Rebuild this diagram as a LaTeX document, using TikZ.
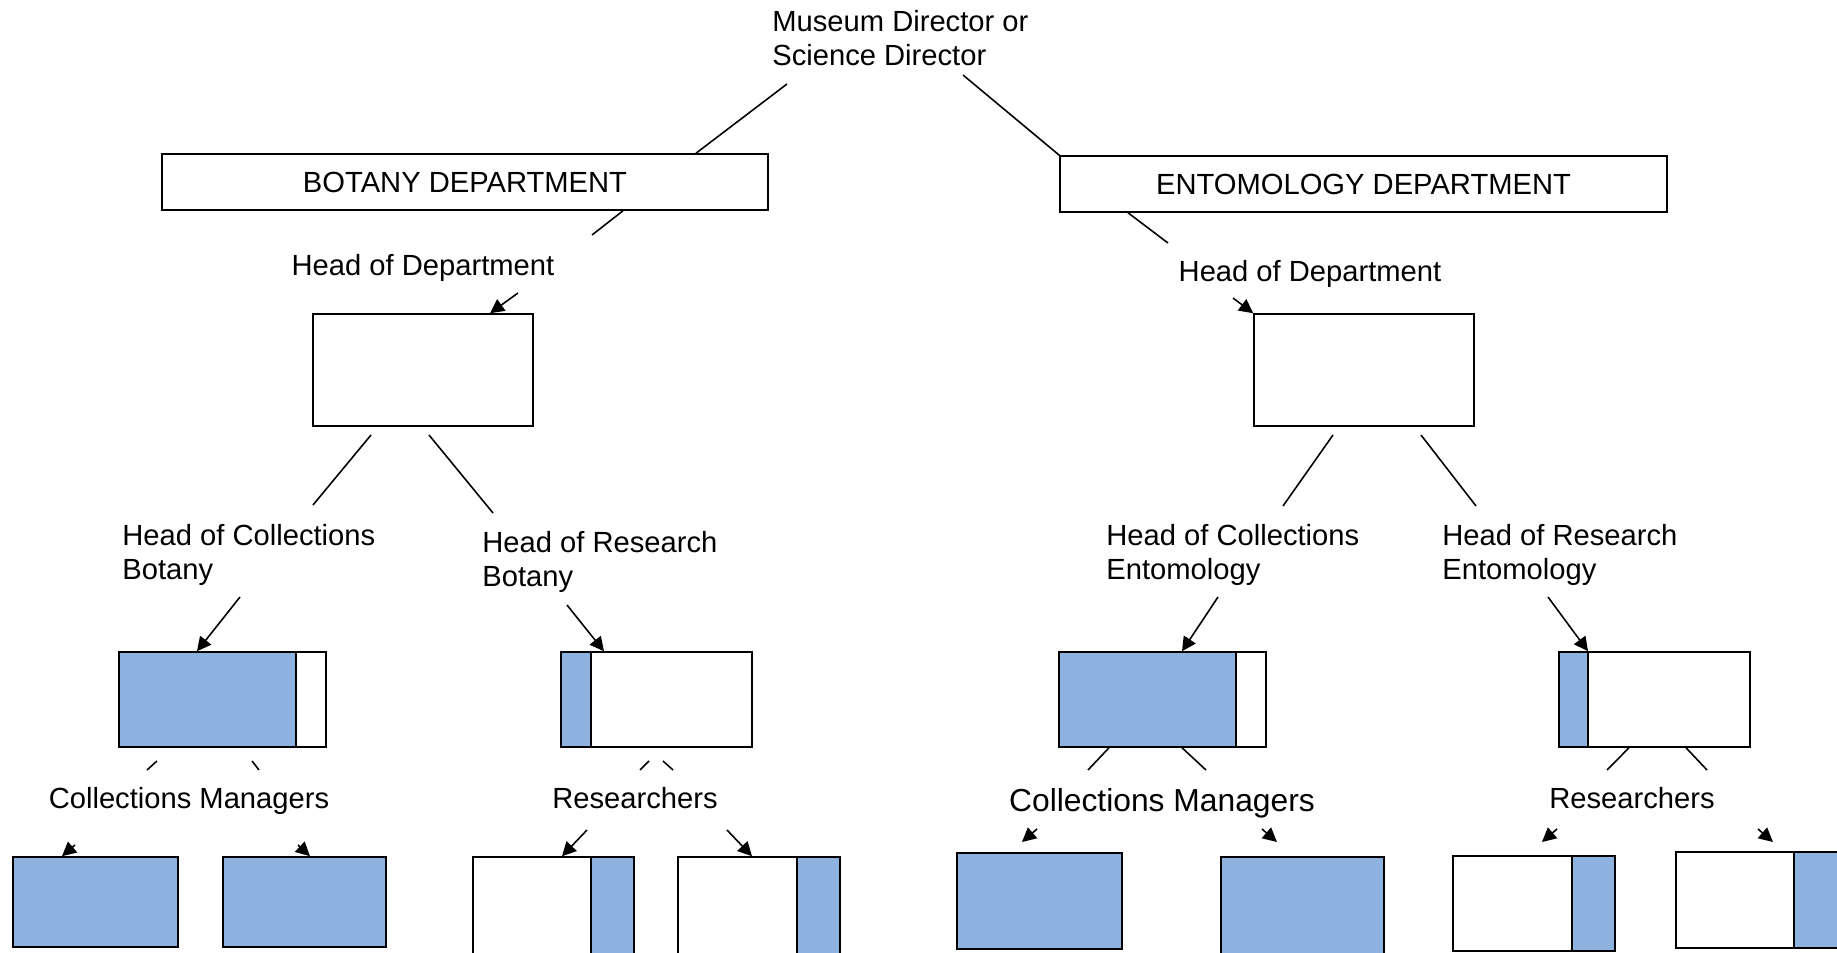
\documentclass[tikz,border=0pt]{standalone}
\usepackage{fontspec}
\setmainfont{Liberation Sans}
\usetikzlibrary{arrows.meta,positioning,calc}
\definecolor{staffblue}{RGB}{142,178,224}

\tikzset{
	orgline/.style={line width=0.9pt},
	orgarrow/.style={line width=0.9pt,-{Triangle[length=8pt,width=8pt]}},
	orgtext/.style={inner sep=0,align=left,font=\fontsize{16.6}{19.4}\selectfont},
	deptbox/.style={draw,line width=0.9pt,inner sep=0,minimum height=1.12cm,font=\fontsize{16.6}{19.4}\selectfont},
	headbox/.style={draw,line width=0.9pt,minimum width=4.4cm,minimum height=2.24cm},
	unitbox/.style={draw,line width=0.9pt,minimum height=1.9cm},
	staffbox/.style={draw,line width=0.9pt}
}

\begin{document}
\begin{tikzpicture}[x=0.02cm,y=-0.02cm]
	\useasboundingbox (0,0) rectangle (1837,953);
	
	% director and departments
	\node[orgtext,anchor=west] (dir) at (772,38) {Museum Director or\\Science Director};
	\node[deptbox,minimum width=12.12cm] (botdept) at (465,182) {BOTANY DEPARTMENT};
	\node[deptbox,minimum width=12.14cm] (entdept) at (1363.5,184) {ENTOMOLOGY DEPARTMENT};
	\coordinate (dirL) at (787,84);
	\coordinate (dirR) at (963,75);
	\draw[orgline] (dirL) -- (696,0 |- botdept.north);
	\draw[orgline] (dirR) -- (entdept.north west);
	
	% botany
	\node[orgtext] (bhdtxt) at (423,268) {Head of Department};
	\node[headbox] (bhead) at (423,370) {};
	\node[orgtext,anchor=west] (bhctxt) at (122,555) {Head of Collections\\Botany};
	\node[orgtext,anchor=west] (bhrtxt) at (482,562) {Head of Research\\Botany};
	\fill[staffblue] (119,652) rectangle (296,747);
	\node[unitbox,minimum width=4.14cm] (bcol) at (222.5,699.5) {};
	\draw[orgline] (296,0 |- bcol.north) -- (296,0 |- bcol.south);
	\fill[staffblue] (561,652) rectangle (591,747);
	\node[unitbox,minimum width=3.82cm] (bres) at (656.5,699.5) {};
	\draw[orgline] (591,0 |- bres.north) -- (591,0 |- bres.south);
	\node[orgtext] (bcmtxt) at (189,801) {Collections Managers};
	\node[orgtext] (brtxt) at (635,798) {Researchers};
	\node[staffbox,fill=staffblue,minimum width=3.3cm,minimum height=1.8cm] (bcm1) at (95.5,902) {};
	\node[staffbox,fill=staffblue,minimum width=3.26cm,minimum height=1.8cm] (bcm2) at (304.5,902) {};
	\fill[staffblue] (591,857) rectangle (634,962);
	\node[staffbox,minimum width=3.22cm,minimum height=2.1cm] (br1) at (553.5,909.5) {};
	\draw[orgline] (591,0 |- br1.north) -- (591,0 |- br1.south);
	\fill[staffblue] (797,857) rectangle (840,962);
	\node[staffbox,minimum width=3.24cm,minimum height=2.1cm] (br2) at (759,909.5) {};
	\draw[orgline] (797,0 |- br2.north) -- (797,0 |- br2.south);
	
	\coordinate (b0) at (592,235);
	\coordinate (b1) at (518,293);
	\coordinate (b2) at (371,435);
	\coordinate (b3) at (313,505);
	\coordinate (b4) at (429,435);
	\coordinate (b5) at (493,513);
	\coordinate (b6) at (240,597);
	\coordinate (b7) at (567,605);
	\draw[orgline] (623,0 |- botdept.south) -- (b0);
	\draw[orgarrow] (b1) -- (490,0 |- bhead.north);
	\draw[orgline] (b2) -- (b3);
	\draw[orgline] (b4) -- (b5);
	\draw[orgarrow] (b6) -- (197,0 |- bcol.north);
	\draw[orgarrow] (b7) -- (604,0 |- bres.north);
	\draw[orgline] (157,761) -- (147,770);
	\draw[orgline] (252,761) -- (259,770);
	\draw[orgline] (649,761) -- (640,770);
	\draw[orgline] (663,761) -- (673,770);
	\draw[orgarrow] (75,845) -- (62,0 |- bcm1.north);
	\draw[orgarrow] (298,845) -- (310,0 |- bcm2.north);
	\draw[orgarrow] (587,830) -- (562,0 |- br1.north);
	\draw[orgarrow] (727,830) -- (752,0 |- br2.north);
	
	% entomology
	\node[orgtext] (ehdtxt) at (1310,274) {Head of Department};
	\node[headbox] (ehead) at (1364,370) {};
	\node[orgtext,anchor=west] (ehctxt) at (1106,555) {Head of Collections\\Entomology};
	\node[orgtext,anchor=west] (ehrtxt) at (1442,555) {Head of Research\\Entomology};
	\fill[staffblue] (1059,652) rectangle (1236,747);
	\node[unitbox,minimum width=4.14cm] (ecol) at (1162.5,699.5) {};
	\draw[orgline] (1236,0 |- ecol.north) -- (1236,0 |- ecol.south);
	\fill[staffblue] (1559,652) rectangle (1588,747);
	\node[unitbox,minimum width=3.82cm] (eres) at (1654.5,699.5) {};
	\draw[orgline] (1588,0 |- eres.north) -- (1588,0 |- eres.south);
	\node[orgtext,font=\fontsize{18.1}{21}\selectfont] (ecmtxt) at (1162,803) {Collections Managers};
	\node[orgtext] (ertxt) at (1632,798) {Researchers};
	\node[staffbox,fill=staffblue,minimum width=3.3cm,minimum height=1.92cm] (ecm1) at (1039.5,901) {};
	\node[staffbox,fill=staffblue,minimum width=3.26cm,minimum height=2.04cm] (ecm2) at (1302.5,908) {};
	\fill[staffblue] (1572,856) rectangle (1615,951);
	\node[staffbox,minimum width=3.24cm,minimum height=1.9cm] (er1) at (1534,903.5) {};
	\draw[orgline] (1572,0 |- er1.north) -- (1572,0 |- er1.south);
	\fill[staffblue] (1794,852) rectangle (1846,948);
	\node[staffbox,minimum width=3.4cm,minimum height=1.92cm] (er2) at (1761,900) {};
	\draw[orgline] (1794,0 |- er2.north) -- (1794,0 |- er2.south);
	
	\coordinate (e0) at (1168,243);
	\coordinate (e1) at (1233,298);
	\coordinate (e2) at (1333,435);
	\coordinate (e3) at (1283,506);
	\coordinate (e4) at (1421,435);
	\coordinate (e5) at (1476,506);
	\coordinate (e6) at (1218,597);
	\coordinate (e7) at (1548,597);
	\draw[orgline] (1128,0 |- entdept.south) -- (e0);
	\draw[orgarrow] (e1) -- (ehead.north west);
	\draw[orgline] (e2) -- (e3);
	\draw[orgline] (e4) -- (e5);
	\draw[orgarrow] (e6) -- (1182,0 |- ecol.north);
	\draw[orgarrow] (e7) -- (1588,0 |- eres.north);
	\draw[orgline] (1109,0 |- ecol.south) -- (1088,770);
	\draw[orgline] (1182,0 |- ecol.south) -- (1206,770);
	\draw[orgline] (1629,0 |- eres.south) -- (1607,770);
	\draw[orgline] (1686,0 |- eres.south) -- (1707,770);
	\draw[orgarrow] (1037,829) -- (1022,842);
	\draw[orgarrow] (1262,829) -- (1277,842);
	\draw[orgarrow] (1557,829) -- (1542,842);
	\draw[orgarrow] (1758,829) -- (1773,842);
\end{tikzpicture}
\end{document}
